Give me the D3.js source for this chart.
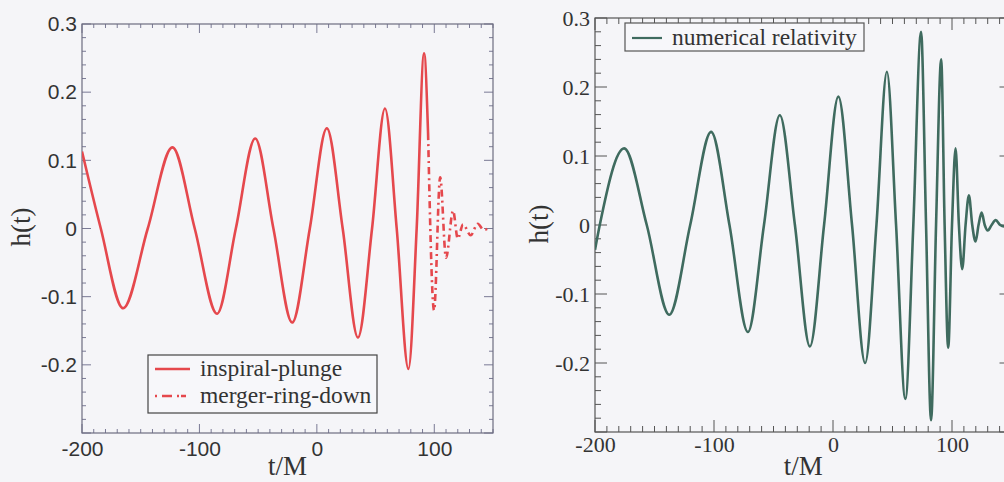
<!DOCTYPE html>
<html>
<head>
<meta charset="utf-8">
<script src="https://cdn.jsdelivr.net/npm/d3@7"></script>
<style>
  html, body { margin: 0; padding: 0; background: #f5f5f8; }
  svg { display: block; }
</style>
</head>
<body>
<svg id="chart" width="1004" height="482"></svg>
<script>
// ---- data ----
const xTickValues = [-200, -100, 0, 100];
const yTickValues = [-0.2, -0.1, 0, 0.1, 0.2, 0.3];
const xDomain = [-200, 150];
const yDomain = [-0.3, 0.3];

// left panel: inspiral-plunge (solid)
const inspiralT = [-200, -184, -165, -144, -123, -104, -85, -69, -52.5, -37, -21, -6, 8.5, 22, 35, 47, 58, 68, 78, 85, 91.3, 94.7];
const inspiralH = [0.113, 0, -0.117, 0, 0.119, 0, -0.125, 0, 0.132, 0, -0.138, 0, 0.147, 0, -0.16, 0, 0.176, 0, -0.206, 0, 0.257, 0.14];

// left panel: merger-ring-down (dash-dot)
const ringdownT = [94.7, 99.8, 105, 110, 116, 120, 124.5, 131, 137, 142, 147.5];
const ringdownH = [0.14, -0.12, 0.075, -0.043, 0.026, -0.015, 0.006, -0.01, 0.007, -0.002, 0.002];

// right panel: numerical relativity
const nrT = [-200, -196, -175.5, -156.5, -137.6, -120, -102.4, -87, -71.5, -58, -44.7, -32, -19.4, -7.5, 4.5, 16, 27, 36.5, 45.3, 53, 60.8, 67.5, 74, 78.2, 82.4, 86.6, 90.9, 93.8, 96.8, 100, 103, 105.8, 108.6, 111.4, 114.2, 117, 119.8, 122.3, 124.9, 127.5, 130, 133.3, 136.7, 140.5, 144, 150];
const nrH = [-0.036, 0, 0.111, 0, -0.13, 0, 0.135, 0, -0.155, 0, 0.159, 0, -0.176, 0, 0.186, 0, -0.2, 0, 0.222, 0, -0.252, 0, 0.28, 0, -0.283, 0, 0.24, 0, -0.178, 0, 0.111, 0, -0.064, 0, 0.043, 0, -0.024, 0, 0.018, 0, -0.008, 0, 0.007, 0, -0.002, 0];

const legendLeft = ["inspiral-plunge", "merger-ring-down"];
const legendRight = ["numerical relativity"];

const svg = d3.select("#chart");
svg.append("rect").attr("width", 1004).attr("height", 482).attr("fill", "#f5f5f8");

function zip(ts, hs) { return ts.map((t, i) => [t, hs[i]]); }

function panel(opts) {
  const x = d3.scaleLinear().domain(xDomain).range([opts.left, opts.right]);
  const y = d3.scaleLinear().domain(yDomain).range([opts.bottom, opts.top]);
  const g = svg.append("g");

  const clipId = "clip" + opts.id;
  svg.append("clipPath").attr("id", clipId).append("rect")
    .attr("x", opts.left).attr("y", opts.top)
    .attr("width", opts.right - opts.left).attr("height", opts.bottom - opts.top);

  // minor / major ticks (inward, all four sides)
  const xMinor = d3.range(-200, 151, 10);
  const yMinor = d3.range(-30, 31, 2).map(v => v / 100);
  const tickG = g.append("g").attr("stroke", opts.tickColor).attr("stroke-width", 1);
  xMinor.forEach(v => {
    const major = xTickValues.includes(v);
    const len = major ? opts.majorLen : opts.minorLen;
    tickG.append("line").attr("x1", x(v)).attr("x2", x(v)).attr("y1", opts.bottom).attr("y2", opts.bottom - len);
    tickG.append("line").attr("x1", x(v)).attr("x2", x(v)).attr("y1", opts.top).attr("y2", opts.top + len);
  });
  yMinor.forEach(v => {
    const major = Math.abs(Math.round(v * 100) % 10) === 0;
    const len = major ? opts.majorLen : opts.minorLen;
    tickG.append("line").attr("y1", y(v)).attr("y2", y(v)).attr("x1", opts.left).attr("x2", opts.left + len);
    tickG.append("line").attr("y1", y(v)).attr("y2", y(v)).attr("x1", opts.right).attr("x2", opts.right - len);
  });

  // axes labels via d3 axes (tick lines hidden, labels only)
  const xAxis = d3.axisBottom(x).tickValues(xTickValues).tickSize(0).tickPadding(opts.xPad)
    .tickFormat(d3.format("d"));
  const ax = g.append("g").attr("transform", `translate(0,${opts.bottom})`).call(xAxis);
  ax.select(".domain").remove();
  ax.selectAll("text").attr("font-family", opts.tickFont).attr("font-size", opts.tickSize)
    .attr("fill", "#333").text(d => d < 0 ? "-" + Math.abs(d) : String(d));

  const yAxis = d3.axisLeft(y).tickValues(yTickValues).tickSize(0).tickPadding(opts.yPad)
    .tickFormat(d => d === 0 ? "0" : d3.format(".1f")(d));
  const ay = g.append("g").attr("transform", `translate(${opts.left},0)`).call(yAxis);
  ay.select(".domain").remove();
  ay.selectAll("text").attr("font-family", opts.tickFont).attr("font-size", opts.tickSize)
    .attr("fill", "#333").text(d => d === 0 ? "0" : (d < 0 ? "-" : "") + d3.format(".1f")(Math.abs(d)));

  // frame
  g.append("rect").attr("x", opts.left).attr("y", opts.top)
    .attr("width", opts.right - opts.left).attr("height", opts.bottom - opts.top)
    .attr("fill", "none").attr("stroke", opts.frameColor).attr("stroke-width", 1.2);

  // titles
  g.append("text").attr("x", (opts.left + opts.right) / 2).attr("y", 475)
    .attr("text-anchor", "middle").attr("font-family", "Liberation Serif, Times New Roman, serif")
    .attr("font-size", 27).attr("fill", "#333").text("t/M");
  g.append("text").attr("transform", `translate(${opts.hx},${opts.hy}) rotate(-90)`)
    .attr("text-anchor", "middle").attr("font-family", "Liberation Serif, Times New Roman, serif")
    .attr("font-size", 27).attr("fill", "#333").text("h(t)");

  return { x, y, g, clipId };
}

const line = (x, y) => d3.line().x(d => x(d[0])).y(d => y(d[1])).curve(d3.curveMonotoneX);

// ---- left panel ----
const L = panel({
  id: "L", left: 82, right: 493, top: 24, bottom: 433,
  tickColor: "#7a7a95", frameColor: "#6d6d80", majorLen: 9, minorLen: 4,
  tickFont: "Liberation Sans, Arial, sans-serif", tickSize: 21, xPad: 8, yPad: 5,
  hx: 30, hy: 227
});
const red = "#e5484d";
L.g.append("path").datum(zip(inspiralT, inspiralH)).attr("clip-path", `url(#${L.clipId})`)
  .attr("d", line(L.x, L.y)).attr("fill", "none").attr("stroke", red).attr("stroke-width", 2.6);
L.g.append("path").datum(zip(ringdownT, ringdownH)).attr("clip-path", `url(#${L.clipId})`)
  .attr("d", line(L.x, L.y)).attr("fill", "none").attr("stroke", red).attr("stroke-width", 2.6)
  .attr("stroke-dasharray", "7,4,2,4");

// left legend
const lg = L.g.append("g");
lg.append("rect").attr("x", 148).attr("y", 355).attr("width", 229).attr("height", 58)
  .attr("fill", "#f7f7fa").attr("stroke", "#444").attr("stroke-width", 1.2);
legendLeft.forEach((name, i) => {
  const yy = 369 + i * 27;
  lg.append("line").attr("x1", 155).attr("x2", 190).attr("y1", yy).attr("y2", yy)
    .attr("stroke", red).attr("stroke-width", 2.6)
    .attr("stroke-dasharray", i === 1 ? "2,5,10,5,2" : null);
  lg.append("text").attr("x", 200).attr("y", yy + 7).attr("font-family", "Liberation Serif, Times New Roman, serif")
    .attr("font-size", 23.5).attr("fill", "#333").text(name);
});

// ---- right panel ----
const R = panel({
  id: "R", left: 595, right: 1011.5, top: 18, bottom: 432,
  tickColor: "#555", frameColor: "#555", majorLen: 12, minorLen: 6,
  tickFont: "Liberation Serif, Times New Roman, serif", tickSize: 22, xPad: 4, yPad: 5,
  hx: 548, hy: 224
});
const green = "#3f6b5f";
R.g.append("path").datum(zip(nrT, nrH)).attr("clip-path", `url(#${R.clipId})`)
  .attr("d", line(R.x, R.y)).attr("fill", "none").attr("stroke", green).attr("stroke-width", 2.6);

const rg = R.g.append("g");
rg.append("rect").attr("x", 625).attr("y", 23).attr("width", 239).attr("height", 28)
  .attr("fill", "#f7f7fa").attr("stroke", "#555").attr("stroke-width", 1.2);
legendRight.forEach((name, i) => {
  rg.append("line").attr("x1", 632).attr("x2", 662).attr("y1", 38).attr("y2", 38)
    .attr("stroke", green).attr("stroke-width", 2.2);
  rg.append("text").attr("x", 672).attr("y", 45).attr("font-family", "Liberation Serif, Times New Roman, serif")
    .attr("font-size", 23.5).attr("fill", "#333").text(name);
});
</script>
</body>
</html>
